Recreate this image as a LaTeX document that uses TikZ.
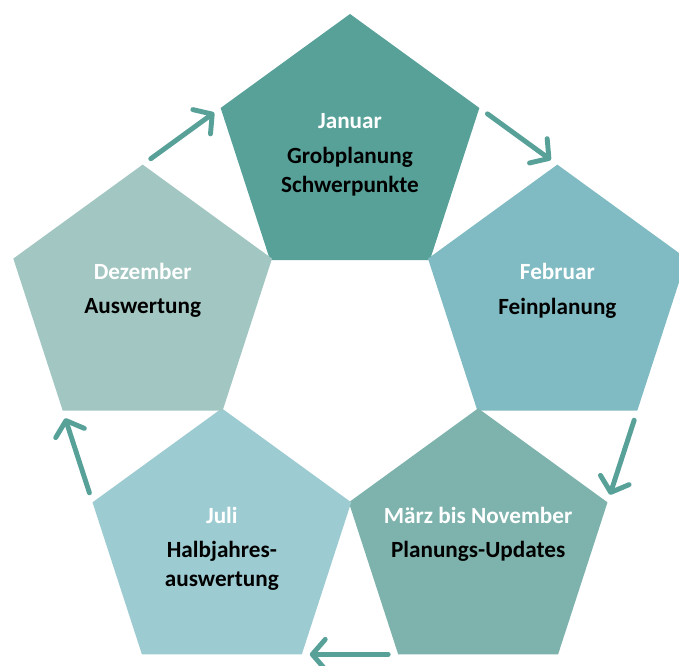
\documentclass[tikz,border=0pt]{standalone}
\usepackage{fontspec}
\setmainfont{Carlito}
\usetikzlibrary{shapes.geometric, calc, arrows.meta}
\definecolor{jancol}{HTML}{58A199}
\definecolor{febcol}{HTML}{80BBC3}
\definecolor{mrzcol}{HTML}{7EB3AD}
\definecolor{julcol}{HTML}{9DCBD2}
\definecolor{dezcol}{HTML}{A2C6C1}
\tikzset{
  pent/.style={regular polygon, regular polygon sides=5, minimum size=5.44cm, inner sep=0pt, outer sep=0pt},
  month/.style={text=white, font=\bfseries\fontsize{13.2}{16.4}\selectfont, anchor=base},
  task/.style={text=black, font=\bfseries\fontsize{13.2}{16.4}\selectfont, align=center, anchor=north, inner sep=0pt},
  flow/.style={draw=jancol, line width=2.8pt, line cap=round, -{Straight Barb[length=0.26cm, width=0.6cm, line cap=round, line join=round]}, shorten <=0.2cm, shorten >=0.16cm}
}
\begin{document}
\begin{tikzpicture}
  \useasboundingbox (0,0) rectangle (13.58,13.32);
  \coordinate (o) at (7,5.96);
  % the five pentagons around the empty middle
  \node[pent, fill=jancol] (jan) at ($(o)+(90:4.36)$) {};
  \node[pent, fill=febcol] (feb) at ($(o)+(18:4.36)$) {};
  \node[pent, fill=mrzcol] (mrz) at ($(o)+(-54:4.36)$) {};
  \node[pent, fill=julcol] (jul) at ($(o)+(-126:4.36)$) {};
  \node[pent, fill=dezcol] (dez) at ($(o)+(162:4.36)$) {};
  % texts
  \node[month] (janm) at ($(jan)+(0,0.42)$) {Januar};
  \node[task] (jant) at ($(jan)+(0,0.06)$) {Grobplanung\\Schwerpunkte};
  \node[month] (febm) at ($(feb)+(0,0.42)$) {Februar};
  \node[task] (febt) at ($(feb)+(0,0.06)$) {Feinplanung};
  \node[month] (mrzm) at ($(mrz)+(0,0.42)$) {März bis November};
  \node[task] (mrzt) at ($(mrz)+(0,0.06)$) {Planungs-Updates};
  \node[month] (julm) at ($(jul)+(0,0.42)$) {Juli};
  \node[task] (jult) at ($(jul)+(0,0.06)$) {Halbjahres-\\auswertung};
  \node[month] (dezm) at ($(dez)+(0,0.42)$) {Dezember};
  \node[task] (dezt) at ($(dez)+(0,0.06)$) {Auswertung};
  % cycle arrows
  \draw[flow] (dez.corner 1) -- (jan.corner 2);
  \draw[flow] (jan.corner 5) -- (feb.corner 1);
  \draw[flow] (feb.corner 4) -- (mrz.corner 5);
  \draw[flow] (mrz.corner 3) -- (jul.corner 4);
  \draw[flow] (jul.corner 2) -- (dez.corner 3);
\end{tikzpicture}
\end{document}
